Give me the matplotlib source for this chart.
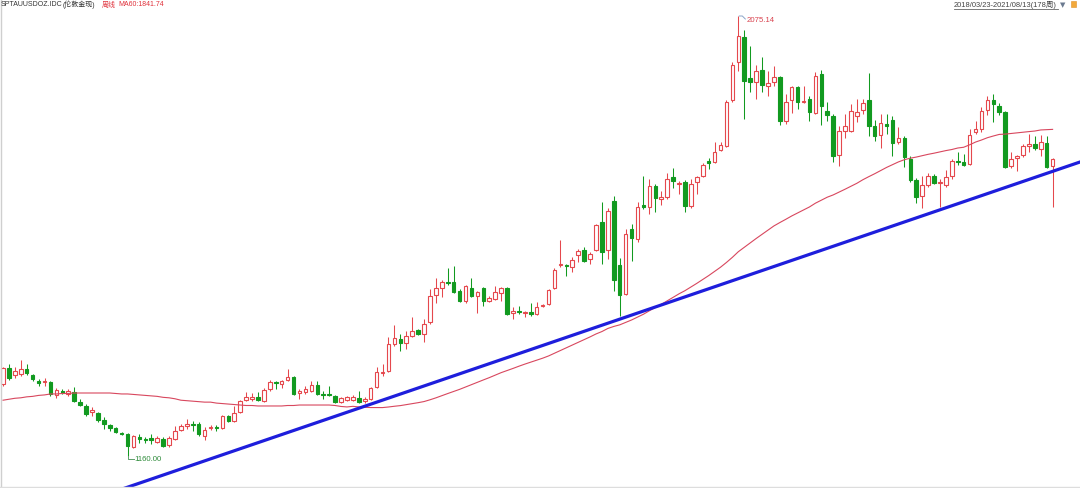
import numpy as np
import matplotlib
matplotlib.use("Agg")
import matplotlib.pyplot as plt

# ---------------- data (weekly London gold, 2018/03/23 - 2021/08/13) ----------------
opens = [1310, 1343, 1328, 1331, 1341, 1328, 1316, 1314, 1314, 1287,
         1295, 1289, 1293, 1272, 1264, 1252, 1249, 1235, 1224, 1218,
         1208, 1206, 1179, 1200, 1195, 1197, 1189, 1195, 1183, 1195,
         1214, 1222, 1227, 1227, 1202, 1218, 1220, 1218, 1243, 1233,
         1252, 1276, 1279, 1283, 1274, 1299, 1314, 1310, 1318, 1324,
         1291, 1293, 1295, 1308, 1289, 1289, 1285, 1272, 1276, 1276,
         1281, 1274, 1279, 1304, 1333, 1337, 1393, 1403, 1395, 1410,
         1422, 1414, 1439, 1495, 1509, 1522, 1522, 1503, 1482, 1509,
         1493, 1509, 1482, 1486, 1499, 1509, 1457, 1462, 1457, 1459,
         1455, 1472, 1476, 1509, 1557, 1557, 1553, 1578, 1588, 1570,
         1588, 1647, 1588, 1690, 1557, 1497, 1632, 1611, 1682, 1678,
         1722, 1695, 1699, 1740, 1726, 1730, 1680, 1730, 1742, 1774,
         1771, 1796, 1805, 1900, 1980, 2031, 1946, 1938, 1963, 1930,
         1938, 1948, 1857, 1900, 1928, 1896, 1902, 1873, 1955, 1878,
         1867, 1786, 1836, 1836, 1867, 1880, 1900, 1846, 1828, 1851,
         1859, 1813, 1821, 1778, 1734, 1701, 1724, 1742, 1728, 1724,
         1742, 1774, 1772, 1767, 1834, 1840, 1880, 1900, 1888, 1876,
         1763, 1780, 1786, 1805, 1809, 1799, 1811, 1763]
highs = [1345, 1351, 1345, 1360, 1351, 1331, 1320, 1322, 1316, 1301,
         1299, 1299, 1304, 1279, 1268, 1262, 1252, 1241, 1227, 1220,
         1210, 1208, 1204, 1206, 1200, 1206, 1202, 1200, 1202, 1222,
         1227, 1237, 1233, 1231, 1220, 1224, 1224, 1245, 1245, 1264,
         1276, 1293, 1291, 1293, 1301, 1318, 1316, 1318, 1341, 1326,
         1299, 1306, 1316, 1316, 1295, 1306, 1287, 1283, 1285, 1287,
         1295, 1283, 1304, 1345, 1351, 1408, 1432, 1414, 1420, 1449,
         1424, 1445, 1507, 1530, 1526, 1551, 1555, 1507, 1516, 1530,
         1503, 1511, 1493, 1514, 1511, 1511, 1470, 1472, 1462, 1478,
         1480, 1476, 1507, 1551, 1609, 1559, 1574, 1591, 1595, 1584,
         1643, 1688, 1676, 1701, 1572, 1632, 1643, 1688, 1742, 1736,
         1726, 1711, 1749, 1759, 1732, 1734, 1736, 1742, 1769, 1780,
         1813, 1813, 1900, 1980, 2075.14, 2046, 2013, 1973, 1990, 1961,
         1971, 1950, 1913, 1930, 1930, 1930, 1909, 1959, 1963, 1896,
         1871, 1846, 1871, 1892, 1903, 1903, 1957, 1859, 1871, 1871,
         1867, 1844, 1826, 1784, 1738, 1742, 1749, 1747, 1736, 1755,
         1778, 1792, 1788, 1840, 1857, 1886, 1909, 1913, 1894, 1878,
         1792, 1786, 1809, 1830, 1826, 1828, 1826, 1780]
lows = [1306, 1318, 1322, 1326, 1328, 1316, 1306, 1306, 1285, 1281,
        1289, 1285, 1272, 1264, 1243, 1243, 1231, 1216, 1212, 1208,
        1204, 1160.00, 1177, 1187, 1187, 1185, 1187, 1179, 1179, 1193,
        1212, 1216, 1212, 1202, 1193, 1214, 1212, 1216, 1231, 1231,
        1249, 1274, 1274, 1274, 1272, 1295, 1299, 1301, 1316, 1287,
        1279, 1289, 1293, 1287, 1279, 1285, 1270, 1270, 1274, 1274,
        1270, 1270, 1276, 1301, 1326, 1335, 1389, 1378, 1383, 1408,
        1412, 1397, 1435, 1478, 1491, 1516, 1499, 1480, 1478, 1491,
        1457, 1472, 1480, 1484, 1482, 1453, 1445, 1455, 1449, 1451,
        1453, 1470, 1474, 1507, 1553, 1534, 1543, 1564, 1564, 1559,
        1586, 1559, 1570, 1503, 1451, 1495, 1565, 1605, 1674, 1663,
        1667, 1682, 1695, 1717, 1705, 1667, 1676, 1705, 1740, 1757,
        1769, 1794, 1803, 1896, 1961, 1861, 1917, 1902, 1917, 1909,
        1930, 1848, 1851, 1873, 1882, 1894, 1857, 1871, 1848, 1857,
        1771, 1763, 1821, 1834, 1855, 1871, 1826, 1815, 1801, 1830,
        1784, 1809, 1761, 1730, 1686, 1676, 1720, 1726, 1678, 1720,
        1736, 1765, 1763, 1765, 1830, 1834, 1869, 1855, 1869, 1759,
        1759, 1753, 1782, 1792, 1796, 1784, 1759, 1678]
closes = [1343, 1322, 1337, 1341, 1333, 1320, 1312, 1316, 1289, 1297,
          1291, 1295, 1274, 1266, 1247, 1256, 1235, 1227, 1218, 1210,
          1206, 1181, 1202, 1195, 1193, 1193, 1197, 1181, 1197, 1212,
          1222, 1227, 1224, 1206, 1214, 1220, 1218, 1243, 1233, 1249,
          1274, 1283, 1283, 1276, 1297, 1314, 1312, 1316, 1324, 1289,
          1295, 1299, 1308, 1289, 1287, 1287, 1272, 1281, 1283, 1283,
          1272, 1279, 1301, 1335, 1335, 1393, 1405, 1395, 1410, 1420,
          1414, 1435, 1493, 1509, 1522, 1520, 1501, 1482, 1514, 1493,
          1501, 1482, 1489, 1501, 1509, 1455, 1462, 1459, 1459, 1455,
          1470, 1474, 1505, 1547, 1559, 1555, 1568, 1586, 1566, 1580,
          1640, 1584, 1670, 1526, 1495, 1622, 1613, 1678, 1678, 1722,
          1697, 1699, 1736, 1732, 1728, 1680, 1726, 1740, 1765, 1769,
          1792, 1807, 1896, 1973, 2034, 1940, 1938, 1961, 1932, 1936,
          1948, 1857, 1896, 1928, 1896, 1898, 1876, 1950, 1888, 1869,
          1784, 1836, 1846, 1878, 1876, 1894, 1846, 1826, 1853, 1846,
          1811, 1821, 1782, 1734, 1699, 1724, 1742, 1728, 1730, 1740,
          1774, 1772, 1765, 1828, 1840, 1878, 1900, 1892, 1876, 1761,
          1778, 1784, 1805, 1809, 1801, 1813, 1761, 1778]
# MA60 values for the first 59 weeks (they depend on weeks before the window)
ma60_head = [1276, 1278, 1280, 1281, 1283, 1284, 1286, 1287, 1289, 1289,
             1290, 1290, 1291, 1291, 1291, 1291, 1291, 1291, 1291, 1290,
             1289, 1289, 1288, 1287, 1286, 1285, 1284, 1282, 1281, 1279,
             1276, 1275, 1274, 1273, 1272, 1272, 1270, 1269, 1268, 1267,
             1266, 1265, 1265, 1264, 1264, 1264, 1264, 1264, 1265, 1265,
             1266, 1266, 1266, 1266, 1266, 1266, 1265, 1263, 1262]
ma_period = 60
# trend line anchors (week index, price)
trend_idx = [61, 177]
trend_price = [1263.5, 1752.0]

symbol_text = "SPTAUUSDOZ.IDC"
name_text = "(伦敦金现)"
period_text = "周线"
ma_text = "MA60:1841.74"
range_text = "2018/03/23-2021/08/13(178周)"

# ---------------- styling ----------------
UP = "#E5484D"
DOWN = "#129A20"
MA_C = "#D8475E"
BLUE = "#1E1EDC"
FONTS = ["Liberation Sans", "Noto Sans CJK SC", "DejaVu Sans"]
plt.rcParams["font.family"] = FONTS

W, H = 1080, 489
fig = plt.figure(figsize=(W / 100, H / 100), dpi=100)
ax = fig.add_axes([0, 0, 1, 1])
n = len(closes)
x = np.arange(n)

# pixel mapping: candle i at 3 + 5.93 i px ; price scale 0.4808 px per $
ax.set_xlim(-0.506, 181.62)
ax.set_ylim(1093.4, 2110.5)
ax.axis("off")

o = np.array(opens, float); c = np.array(closes, float)
hi = np.array(highs, float); lo = np.array(lows, float)
up = c >= o

# wicks
for i in range(n):
    col = UP if up[i] else DOWN
    top = max(o[i], c[i]); bot = min(o[i], c[i])
    ax.vlines(i, top, hi[i], color=col, lw=0.75, zorder=2)
    ax.vlines(i, lo[i], bot, color=col, lw=0.75, zorder=2)

# bodies
bw = 0.6
for i in range(n):
    top = max(o[i], c[i]); bot = min(o[i], c[i])
    h = max(top - bot, 0.8)
    if up[i]:
        ax.bar(i, h, bottom=bot, width=bw, facecolor="white", edgecolor=UP,
               linewidth=0.8, zorder=3)
    else:
        ax.bar(i, h, bottom=bot, width=bw, facecolor=DOWN, edgecolor=DOWN,
               linewidth=0.8, zorder=3)

# MA60
ma = np.array(ma60_head + [np.mean(c[i - ma_period + 1:i + 1])
                           for i in range(len(ma60_head), n)])
ax.plot(x, ma, color=MA_C, lw=0.8, zorder=4)

# trend line
slope = (trend_price[1] - trend_price[0]) / (trend_idx[1] - trend_idx[0])
tx = np.array([-2, 185])
ax.plot(tx, trend_price[0] + slope * (tx - trend_idx[0]), color=BLUE, lw=2.3,
        zorder=5, solid_capstyle="butt")

# extreme annotations
imax = int(np.argmax(hi)); imin = int(np.argmin(lo))
p0 = ax.transData.transform((imax, hi[imax]))
p1 = ax.transData.transform((imin, lo[imin]))
inv = ax.transData.inverted()
def d(p, dx, dy):
    return inv.transform((p[0] + dx, p[1] - dy))
a = d(p0, 1, 0); b = d(p0, 4, 0); cc = d(p0, 7, 3)
ax.plot([a[0], b[0], cc[0]], [a[1], b[1], cc[1]], color="#8AA4C8", lw=0.7, zorder=6)
tp = d(p0, 8, 3)
ax.text(tp[0], tp[1], f"{hi[imax]:.2f}", color="#D9434F", fontsize=5.6,
        ha="left", va="center", zorder=7)
a = d(p1, 0, 0); b = d(p1, 0, 3); cc = d(p1, 6, 3)
ax.plot([a[0], b[0], cc[0]], [a[1], b[1], cc[1]], color="#5E9E6A", lw=0.7, zorder=6)
tp = d(p1, 7, 3)
ax.text(tp[0], tp[1], f"{lo[imin]:.2f}", color="#2E8B3A", fontsize=5.6,
        ha="left", va="center", zorder=7)

# frame lines (left & bottom)
fig.add_artist(plt.Line2D([0.5 / W, 0.5 / W], [0, 1], color="#CFCFCF", lw=1.0))
fig.add_artist(plt.Line2D([0, 1], [1 - 487.5 / H, 1 - 487.5 / H], color="#DDDDDD", lw=1.0))

# header texts
def ftext(px, py, s, size=5.0, **kw):
    fig.text(px / W, 1 - py / H, s, va="center", ha="left", fontsize=size, **kw)

ftext(1, 5, symbol_text, color="#333333")
ftext(63, 5, name_text, color="#333333")
ftext(102, 5, period_text, color="#E0303A")
ftext(118, 5, ma_text, color="#E0303A")
ftext(954, 5, range_text, size=5.4, color="#444444")
fig.add_artist(plt.Line2D([954 / W, 1058 / W], [1 - 9.5 / H, 1 - 9.5 / H],
                          color="#666666", lw=0.6))
fig.text(1063 / W, 1 - 5 / H, "▼", fontsize=5, color="#6B7A90", ha="center",
         va="center", family=["DejaVu Sans"])
fig.add_artist(plt.Rectangle((1071 / W, 1 - 8 / H), 5 / W, 6 / H,
                             facecolor="#F2A93B", edgecolor="#E0922A", lw=0.4))

fig.savefig("out.png", dpi=100, facecolor="white")
